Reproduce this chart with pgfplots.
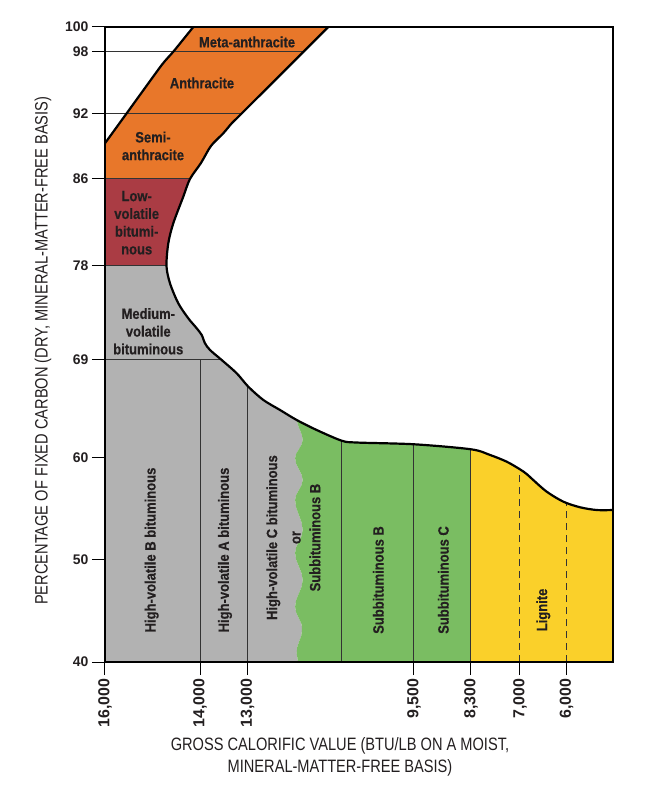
\documentclass[border=0pt]{standalone}
\usepackage{fontspec}
\setmainfont{Liberation Sans}
\newfontfamily\condb[FakeStretch=0.87,FakeBold=0.4]{Liberation Sans Bold}
\newfontfamily\condr[FakeStretch=0.815]{Liberation Sans}
\usepackage{pgfplots}
\pgfplotsset{compat=1.18}
\definecolor{corange}{RGB}{232,119,42}
\definecolor{cred}{RGB}{170,60,68}
\definecolor{cgrey}{RGB}{178,178,178}
\definecolor{cgreen}{RGB}{122,189,98}
\definecolor{cyellow}{RGB}{250,208,42}
\definecolor{ctext}{RGB}{35,31,32}
\newcommand\lab{\condb\fontsize{15}{17.8}\selectfont}
\begin{document}
\begin{tikzpicture}
\useasboundingbox (-105bp,-143bp) rectangle (563bp,662bp);
\begin{axis}[
  at={(0,0)}, anchor=south west,
  width=508bp, height=635bp, scale only axis,
  x coord trafo/.code={\pgfmathparse{(#1>8299.9) ? (#1) : ((#1>6999.9) ? (8300-(8300-#1)*0.793) : (7269-(7000-#1)*0.9786))}},
  y coord trafo/.code={\pgfmathparse{(#1<60) ? (40+(#1-40)*0.9638) : ((#1<69) ? (59.276+(#1-60)*1.0289) : ((#1<78) ? (68.536+(#1-69)*0.9869) : ((#1<86) ? (77.418+(#1-78)*1.0278) : ((#1<92) ? (85.640+(#1-86)*1.0233) : ((#1<98) ? (91.780+(#1-92)*0.9767) : (97.640+(#1-98)*1.18))))))}},
  xmin=5000, xmax=16000, x dir=reverse,
  ymin=40, ymax=100,
  scaled x ticks=false, scaled y ticks=false,
  axis line style={black, line width=1.8bp},
  tick align=outside, major tick length=13bp,
  tick style={black, line width=1bp},
  xtick pos=bottom, ytick pos=left,
  xtick={16000,14000,13000,9500,8300,7000,6000},
  xticklabels={{16,000},{14,000},{13,000},{9,500},{8,300},{7,000},{6,000}},
  ytick={40,50,60,69,78,86,92,98,100},
  yticklabels={40,50,60,69,78,86,92,98,100},
  xticklabel style={rotate=90, anchor=east, font=\fontsize{16}{16}\selectfont\bfseries, text=ctext},
  yticklabel style={font=\fontsize{14}{14}\selectfont\bfseries, text=ctext},
  xlabel={GROSS CALORIFIC VALUE (BTU/LB ON A MOIST,\\MINERAL-MATTER-FREE BASIS)},
  xlabel style={font=\condr\fontsize{18}{22}\selectfont, align=center, at={(axis description cs:0.4626,-0.1496)}, anchor=center, text=ctext},
  ylabel={PERCENTAGE OF FIXED CARBON (DRY, MINERAL-MATTER-FREE BASIS)},
  ylabel style={font=\condr\fontsize{18}{21}\selectfont, at={(axis description cs:-0.122,0.49)}, anchor=center, text=ctext},
  axis on top,
]
% orange: anthracite group
\addplot[fill=corange, draw=none] coordinates {
 (16000,86) (16000,89.3) (15543,92.07) (14807,96.74) (14563,98.02) (14142,100)
 (11302,100) (11828,98) (13135,92) (13328,91.17) (13511,90.22) (13770,89.05) (13980,87.48) (14127,86.6) (14212,86)} -- cycle;
% red: low-volatile
\addplot[fill=cred, draw=none] coordinates {
 (16000,78) (16000,86) (14212,86) (14353,84.37) (14563,81.93) (14668,80.09) (14706,78)} -- cycle;
% grey
\addplot[fill=cgrey, draw=none] coordinates {
 (16000,40) (16000,78) (14706,78) (14632,76.34) (14458,74.43) (14247,72.99) (14071,72.04)
 (13965,71.39) (13896,70.60) (13791,69.96) (13545,69) (13229,67.78) (12985,66.55)
 (12669,65.33) (12318,64.41) (11967,63.49)
 (11930,62.91) (11890,62.49) (11855,62.07) (11840,61.65)
 (11863,61.23) (11920,60.81) (11977,60.39) (12000,59.97)
 (11977,59.44) (11920,58.91) (11863,58.37) (11840,57.84)
 (11863,57.35) (11920,56.86) (11977,56.37) (12000,55.88)
 (11977,55.15) (11920,54.41) (11863,53.68) (11840,52.94)
 (11863,52.38) (11920,51.82) (11977,51.25) (12000,50.69)
 (11977,50.03) (11920,49.37) (11863,48.70) (11840,48.04)
 (11863,47.39) (11920,46.73) (11977,46.08) (12000,45.42)
 (11977,44.85) (11920,44.28) (11863,43.71) (11855,43.14)
 (11870,42.58) (11915,42.01) (11955,41.45) (11967,40.88) (11939,40)} -- cycle;
% green
\addplot[fill=cgreen, draw=none] coordinates {
 (11967,63.49) (11546,62.57) (11020,61.59) (10704,61.42) (9500,61.26) (8300,60.80)
 (8300,40) (11939,40)
 (11967,40.88) (11955,41.45) (11915,42.01) (11870,42.58)
 (11855,43.14) (11863,43.71) (11920,44.28) (11977,44.85)
 (12000,45.42) (11977,46.08) (11920,46.73) (11863,47.39)
 (11840,48.04) (11863,48.70) (11920,49.37) (11977,50.03)
 (12000,50.69) (11977,51.25) (11920,51.82) (11863,52.38)
 (11840,52.94) (11863,53.68) (11920,54.41) (11977,55.15)
 (12000,55.88) (11977,56.37) (11920,56.86) (11863,57.35)
 (11840,57.84) (11863,58.37) (11920,58.91) (11977,59.44)
 (12000,59.97) (11977,60.39) (11920,60.81) (11863,61.23)
 (11840,61.65) (11855,62.07) (11890,62.49) (11930,62.91)} -- cycle;
% yellow: lignite
\addplot[fill=cyellow, draw=none] coordinates {
 (8300,60.80) (7796,60.28) (7353,59.64) (7000,58.89) (6856,58.43) (6714,57.84) (6426,56.70)
 (6069,55.72) (5710,55.17) (5351,54.90) (5000,54.90) (5000,40) (8300,40)} -- cycle;
% thin internal boundaries
\addplot[black!80, line width=1bp] coordinates {(16000,98) (11828,98)};
\addplot[black!80, line width=1bp] coordinates {(16000,92) (13135,92)};
\addplot[black!80, line width=1bp] coordinates {(16000,86) (14212,86)};
\addplot[black!80, line width=1bp] coordinates {(16000,78) (14706,78)};
\addplot[black!80, line width=1bp] coordinates {(16000,69) (13545,69)};
\addplot[black!80, line width=1bp] coordinates {(14000,40) (14000,69)};
\addplot[black!80, line width=1bp] coordinates {(13000,40) (13000,66.6)};
\addplot[black!80, line width=1bp] coordinates {(11020,40) (11020,61.59)};
\addplot[black!80, line width=1bp] coordinates {(9500,40) (9500,61.26)};
\addplot[black!80, line width=1bp] coordinates {(8300,40) (8300,60.80)};
\addplot[black!80, line width=1bp, dash pattern=on 7bp off 5bp] coordinates {(7000,40) (7000,58.89)};
\addplot[black!80, line width=1bp, dash pattern=on 7bp off 5bp] coordinates {(6000,40) (6000,55.6)};
% thick outlines
\addplot[black, line width=2.2bp, smooth, tension=0.3] coordinates {(16000,89.3) (15543,92.07) (14807,96.74) (14563,98.02) (14142,100)};
\addplot[black, line width=2.2bp, smooth, tension=0.5] coordinates {
 (11302,100) (11828,98) (13135,92) (13328,91.17) (13511,90.22) (13770,89.05) (13980,87.48) (14212,86)
 (14353,84.37) (14563,81.93) (14668,80.09) (14706,78)
 (14632,76.34) (14458,74.43) (14247,72.99) (14071,72.04)
 (13965,71.39) (13896,70.60) (13791,69.96) (13545,69) (13229,67.78) (12985,66.55)
 (12669,65.33) (12318,64.41) (11967,63.49) (11546,62.57) (11020,61.59) (10704,61.42)
 (9500,61.26) (8300,60.80) (7796,60.28) (7353,59.64) (7000,58.89) (6856,58.43) (6714,57.84)
 (6426,56.70) (6069,55.72) (5710,55.17) (5351,54.90) (5000,54.90)};
% labels
\node[font=\lab, text=ctext] at (axis cs:13012,98.8) {Meta-anthracite};
\node[font=\lab, text=ctext] at (axis cs:13959,95.0) {Anthracite};
\node[font=\lab, text=ctext, align=center] at (axis cs:14990,89.05) {Semi-\\anthracite};
\node[font=\lab, text=ctext, align=center] at (axis cs:15333,81.98) {Low-\\volatile\\bitumi-\\nous};
\node[font=\lab, text=ctext, align=center] at (axis cs:15089,71.75) {Medium-\\volatile\\bituminous};
\node[font=\lab, text=ctext, rotate=90] at (axis cs:15017,50.98) {High-volatile B bituminous};
\node[font=\lab, text=ctext, rotate=90] at (axis cs:13475,50.98) {High-volatile A bituminous};
\node[font=\lab, text=ctext, rotate=90] at (axis cs:12459,52.2) {High-volatile C bituminous};
\node[font=\lab, text=ctext, rotate=90] at (axis cs:11967,52.2) {or};
\node[font=\lab, text=ctext, rotate=90] at (axis cs:11582,52.2) {Subbituminous B};
\node[font=\lab, text=ctext, rotate=90] at (axis cs:10250,48.04) {Subbituminous B};
\node[font=\lab, text=ctext, rotate=90] at (axis cs:8882,48.04) {Subbituminous C};
\node[font=\lab, text=ctext, rotate=90] at (axis cs:6499,45.1) {Lignite};
\end{axis}
\end{tikzpicture}
\end{document}
